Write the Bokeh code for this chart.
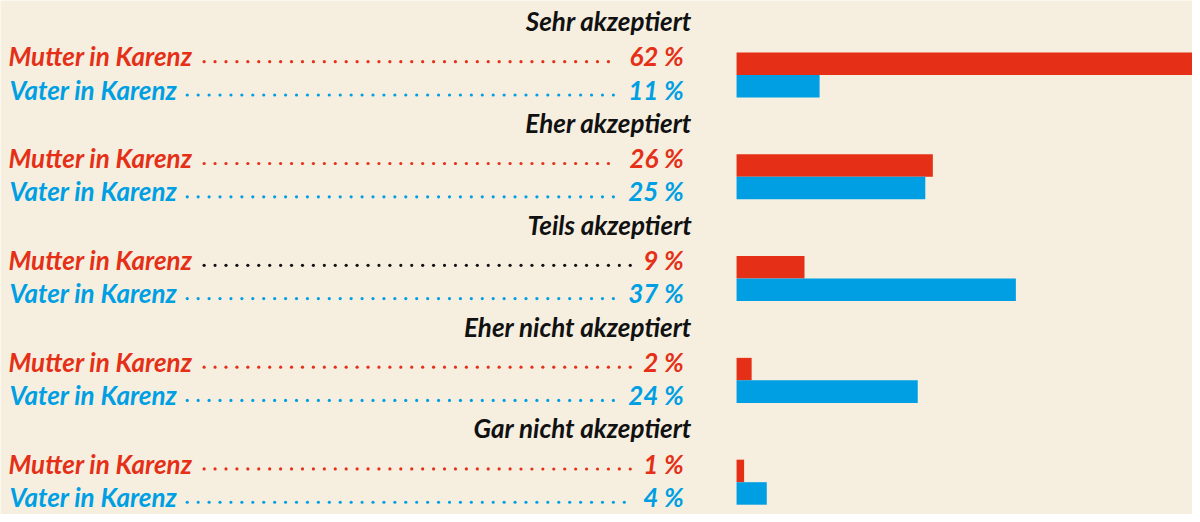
import numpy as np
from bokeh.plotting import figure
from bokeh.models import Range1d
from bokeh.embed import file_html
from bokeh.resources import INLINE
from bokeh.core.properties import value

groups = ["Sehr akzeptiert", "Eher akzeptiert", "Teils akzeptiert",
          "Eher nicht akzeptiert", "Gar nicht akzeptiert"]
series = ["Mutter in Karenz", "Vater in Karenz"]
mutter = [62, 26, 9, 2, 1]
vater = [11, 25, 37, 24, 4]

RED = "#e53017"
BLUE = "#009fe3"
BG = "#f6efe0"
FONT = "Lato"
FS = "26px"
TY = -7.0   # baseline correction for text rendering

# layout: reference pixel geometry
X0 = 741.0      # bar origin (px)
PXPCT = 7.6     # px per percent
def px(xp):
    return (xp - X0) / PXPCT

W, H = 1192, 514
p = figure(width=W, height=H, output_backend="svg", toolbar_location=None,
           x_range=Range1d(px(0), px(1200)), y_range=Range1d(525, 0),
           min_border=0, border_fill_color=BG, background_fill_color=BG,
           outline_line_color=None)
p.axis.visible = False
p.grid.visible = False

STEP = 104
idx = np.arange(len(groups))
red_y = 64.5 + STEP * idx
blue_y = 87.5 + STEP * idx

p.hbar(y=red_y, left=0, right=mutter, height=23, color=RED, line_color=None)
p.hbar(y=blue_y, left=0, right=vater, height=23, color=BLUE, line_color=None)

# headings
p.text(x=[px(696)] * len(groups), y=list(28 + TY + STEP * idx), text=groups,
       text_font=value(FONT), text_font_style="bold italic", text_font_size=FS,
       text_color="#111111", text_align="right", text_baseline="alphabetic")

label_w = {series[0]: 184, series[1]: 166}
label_x = {series[0]: 8, series[1]: 9}
for s, vals, col, base in [(series[0], mutter, RED, 64), (series[1], vater, BLUE, 98)]:
    ys = list(base + TY + STEP * idx)
    p.text(x=[px(label_x[s])] * len(groups), y=ys, text=[s] * len(groups),
           text_font=value(FONT), text_font_style="bold italic", text_font_size=FS,
           text_color=col, text_align="left", text_baseline="alphabetic")
    p.text(x=[px(688)] * len(groups), y=ys, text=[f"{v} %" for v in vals],
           text_font=value(FONT), text_font_style="bold italic", text_font_size=FS,
           text_color=col, text_align="right", text_baseline="alphabetic")
    for i, v in enumerate(vals):
        nd = len(str(v))
        end = 688 - (13 * nd + 28) - 12
        start = label_x[s] + label_w[s] + 13
        dx = np.arange(start, end + 0.1, 11.0)
        dcol = col
        if s == series[0] and groups[i] == "Teils akzeptiert":
            dcol = "#111111"
        p.scatter(x=[px(d) for d in dx], y=[base - 1.5 + STEP * i] * len(dx),
                  size=3.2, color=dcol, line_color=None, marker="circle")

open("out.html", "w").write(file_html(p, INLINE))
